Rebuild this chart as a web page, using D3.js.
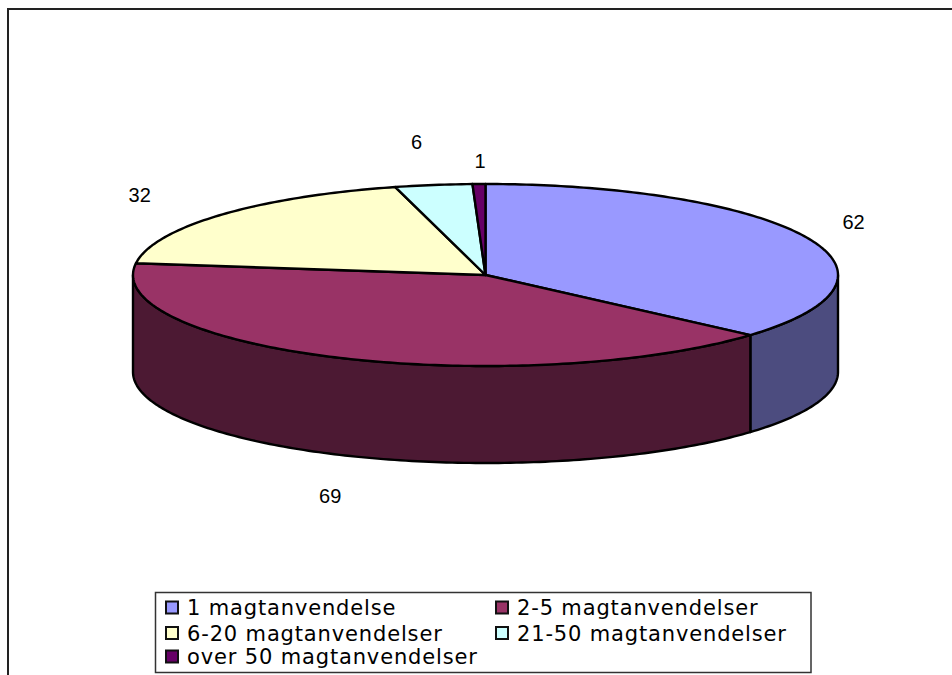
<!DOCTYPE html>
<html><head><meta charset="utf-8">
<script src="https://cdn.jsdelivr.net/npm/d3@7"></script>
<style>html,body{margin:0;padding:0;background:#fff;overflow:hidden}svg{display:block}</style>
</head><body><svg id="c" width="952" height="675"></svg>
<script>
const categories = ["1 magtanvendelse","2-5 magtanvendelser","6-20 magtanvendelser","21-50 magtanvendelser","over 50 magtanvendelser"];
const values = [62,69,32,6,1];
const topColors = ["#9999ff","#993366","#ffffcc","#ccffff","#660066"];
const sideColors = ["#4c4c7f","#4c1933","#7f7f66","#667f7f","#330033"];

const svg = d3.select("#c");
svg.append("path").attr("d", "M8,675V9H952").attr("fill","none").attr("stroke","#222").attr("stroke-width",2);

const cx = 485.5, cy = 275, rx = 352.5, ry = 91, depth = 97;
const sx = d3.scaleLinear().domain([-1,1]).range([cx-rx,cx+rx]);
const sy = d3.scaleLinear().domain([-1,1]).range([cy-ry,cy+ry]);
const pie = d3.pie().sort(null).value(d=>d);
const arcs = pie(values);
const pt = (a,dz=0)=>[sx(Math.sin(a)), sy(-Math.cos(a))+dz];
const line = d3.line();
const samples = (a0,a1,dz=0)=>{
  const n = Math.max(2,Math.ceil(Math.abs(a1-a0)*60));
  return d3.range(n+1).map(i=>pt(a0+(a1-a0)*i/n,dz));
};
// side walls: only the front half of the ellipse is visible
const g = svg.append("g").attr("stroke","#000").attr("stroke-width",2.4).attr("stroke-linejoin","round");
arcs.forEach((d,i)=>{
  const a0 = Math.max(d.startAngle, Math.PI/2), a1 = Math.min(d.endAngle, 3*Math.PI/2);
  if (a1 <= a0) return;
  const pts = samples(a0,a1).concat(samples(a1,a0,depth));
  g.append("path").attr("d", line(pts)+"Z").attr("fill", sideColors[i]);
});
// top face
arcs.forEach((d,i)=>{
  const pts = [[cx,cy]].concat(samples(d.startAngle,d.endAngle));
  g.append("path").attr("d", line(pts)+"Z").attr("fill", topColors[i]);
});
// value labels
const labelOffsets = [[47,-15],[-10,138],[-81,-20],[-17,-43],[1,-23]];
svg.append("g").attr("font-family","'Liberation Sans',Arial,sans-serif").attr("font-size",20).attr("fill","#000")
  .attr("text-anchor","middle").attr("dominant-baseline","central")
  .selectAll("text").data(arcs).join("text")
  .attr("x",(d,i)=>pt((d.startAngle+d.endAngle)/2)[0]+labelOffsets[i][0])
  .attr("y",(d,i)=>pt((d.startAngle+d.endAngle)/2)[1]+labelOffsets[i][1])
  .text(d=>d.data);

// legend
const lg = svg.append("g");
lg.append("rect").attr("x",155.5).attr("y",592.5).attr("width",655.5).attr("height",80).attr("fill","#fff").attr("stroke","#333").attr("stroke-width",1.5);
const cols = [166,496], rowY = [607.5,633,656.5];
categories.forEach((c,i)=>{
  const x = cols[i%2], y = rowY[Math.floor(i/2)];
  lg.append("rect").attr("x",x).attr("y",y-6).attr("width",12).attr("height",12).attr("fill",topColors[i]).attr("stroke","#111").attr("stroke-width",2);
  lg.append("text").attr("x",x+21).attr("y",y+7.5).attr("font-family","'DejaVu Sans',Verdana,sans-serif").attr("font-size",21).attr("letter-spacing",0.85).attr("fill","#000").text(c);
});
</script></body></html>
